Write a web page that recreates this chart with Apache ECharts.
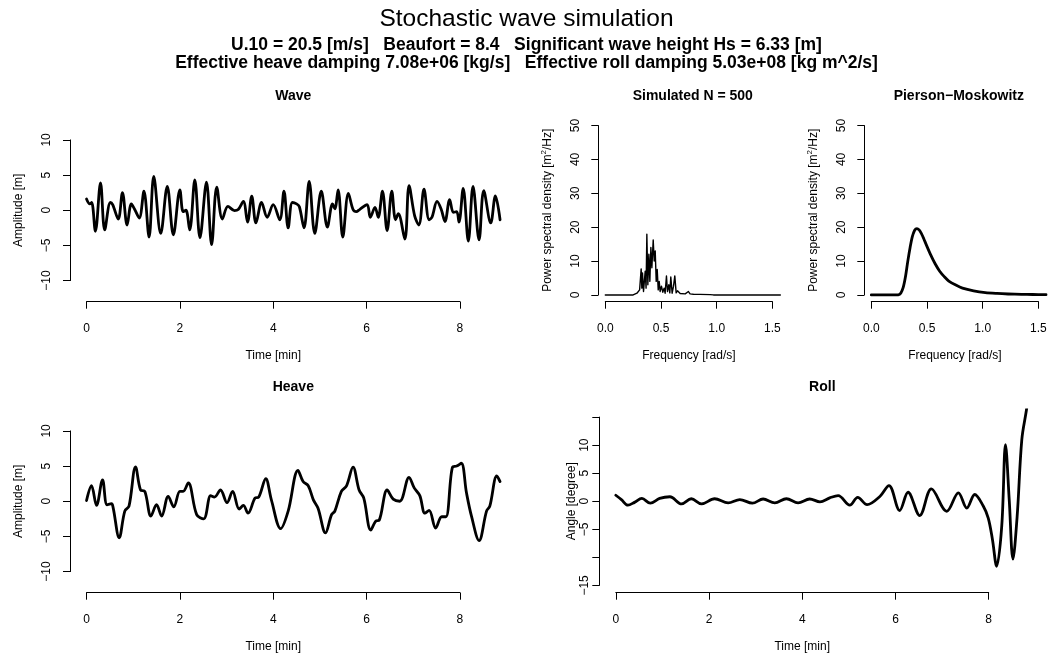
<!DOCTYPE html>
<html>
<head>
<meta charset="utf-8">
<script src="https://cdn.jsdelivr.net/npm/echarts@6/dist/echarts.min.js"></script>
<style>
html,body{margin:0;padding:0;background:#fff;}
#chart{width:1053px;height:658px;}
</style>
</head>
<body>
<div id="chart"></div>
<script>
// ---------------- DATA ----------------
const mainTitle = 'Stochastic wave simulation';
const subLine1 = 'U.10 = 20.5 [m/s]   Beaufort = 8.4   Significant wave height Hs = 6.33 [m]';
const subLine2 = 'Effective heave damping 7.08e+06 [kg/s]   Effective roll damping 5.03e+08 [kg m^2/s]';
const panelTitles = ['Wave', 'Simulated N = 500', 'Pierson\u2212Moskowitz', 'Heave', 'Roll'];

const timeTicks = [0, 2, 4, 6, 8];
const freqTicks = [0, 0.5, 1.0, 1.5];
const ampTicks = [-10, -5, 0, 5, 10];
const psdTicks = [0, 10, 20, 30, 40, 50];
const rollTicks = [-15, -10, -5, 0, 5, 10, 15];
const rollLabelsShown = [-15, -5, 0, 5, 10];

// wave elevation [min, m]
const wave = [[0,1.6],[0.07,0.9],[0.11,1.1],[0.19,-3.0],[0.30,3.9],[0.39,-2.8],[0.51,1.1],[0.56,0.8],[0.68,-1.25],[0.77,2.5],[0.87,-2.1],[0.96,0.9],[1.03,0.15],[1.13,-1.1],[1.23,2.7],[1.34,-3.8],[1.44,4.8],[1.59,-3.3],[1.73,3.4],[1.86,-3.5],[2.0,2.9],[2.07,-0.2],[2.13,0.0],[2.21,-2.8],[2.32,4.3],[2.43,-3.9],[2.57,4.0],[2.68,-4.9],[2.79,3.3],[2.91,-1.25],[3.03,0.55],[3.17,-0.05],[3.25,0.1],[3.36,1.25],[3.45,-1.7],[3.54,2.0],[3.63,-1.8],[3.75,1.1],[3.87,-1.0],[4.0,0.8],[4.14,-1.35],[4.23,2.7],[4.32,-2.5],[4.41,1.1],[4.50,0.9],[4.56,0.5],[4.66,-2.5],[4.77,4.1],[4.89,-3.3],[5.03,2.7],[5.16,-2.4],[5.27,0.9],[5.32,0.2],[5.39,2.9],[5.49,-3.8],[5.61,2.4],[5.71,0.1],[5.78,-0.2],[5.85,0.1],[6.01,0.8],[6.08,-1.0],[6.18,0.4],[6.25,-1.0],[6.34,2.7],[6.44,-2.9],[6.54,2.7],[6.62,-1.35],[6.68,-0.5],[6.82,-4.1],[6.91,3.5],[7.03,-0.8],[7.12,-2.1],[7.23,3.0],[7.34,-1.35],[7.40,-1.0],[7.51,1.25],[7.60,0.1],[7.68,-1.6],[7.78,1.5],[7.86,-0.3],[7.93,-0.2],[7.98,-1.7],[8.07,3.1],[8.18,-4.4],[8.28,3.4],[8.41,-4.2],[8.51,2.8],[8.66,-1.8],[8.76,2.05],[8.86,-1.35]];

// heave [min, m]
const heave = [[0,0.1],[0.107,2.2],[0.214,-0.6],[0.343,3.05],[0.44,-0.5],[0.536,-0.35],[0.57,-0.9],[0.70,-5.2],[0.82,-1.4],[0.91,-0.7],[1.05,4.9],[1.157,1.6],[1.25,1.4],[1.38,-2.1],[1.5,-0.5],[1.61,-2.1],[1.75,0.7],[1.87,-0.8],[2.0,1.4],[2.07,1.4],[2.18,2.6],[2.36,-1.9],[2.51,-2.5],[2.66,0.8],[2.74,0.6],[2.87,1.6],[3.01,-0.2],[3.13,1.4],[3.27,-1.1],[3.36,-0.6],[3.46,-1.7],[3.61,0.45],[3.69,0.6],[3.84,3.2],[3.96,0.2],[4.16,-3.9],[4.32,-1.4],[4.53,4.4],[4.64,2.8],[4.75,2.2],[4.86,0.2],[4.96,-1.0],[5.12,-4.5],[5.25,-1.9],[5.32,-1.4],[5.46,1.4],[5.57,2.2],[5.71,4.85],[5.84,1.6],[5.94,0.45],[6.09,-4.1],[6.2,-2.8],[6.27,-2.7],[6.44,1.6],[6.57,0.3],[6.71,0.0],[6.91,3.4],[7.02,1.9],[7.14,0.8],[7.25,-1.7],[7.34,-1.3],[7.48,-3.8],[7.61,-2.2],[7.70,-2.2],[7.84,4.85],[7.93,5.0],[8.03,5.4],[8.14,1.2],[8.25,-2.2],[8.41,-5.6],[8.57,-1.4],[8.64,-0.7],[8.79,3.6],[8.86,2.8]];

// roll [min, degree]
const roll = [[0,1.07],[0.12,0.3],[0.26,-0.7],[0.40,-0.2],[0.56,0.5],[0.74,-0.35],[0.94,0.5],[1.16,0.8],[1.41,-0.47],[1.62,0.45],[1.84,-0.47],[2.12,0.45],[2.41,-0.3],[2.66,0.3],[2.93,-0.35],[3.16,0.4],[3.41,-0.3],[3.66,0.45],[3.91,-0.3],[4.16,0.4],[4.38,-0.1],[4.59,0.6],[4.77,1.0],[5.02,-0.7],[5.19,0.7],[5.39,-0.6],[5.67,0.9],[5.86,2.8],[6.09,-1.65],[6.27,1.6],[6.52,-2.55],[6.77,2.2],[7.10,-1.8],[7.35,1.5],[7.53,-1.2],[7.70,1.2],[7.88,-0.8],[7.99,-3.0],[8.08,-6.8],[8.17,-11.6],[8.28,-4.4],[8.36,10.1],[8.44,0.3],[8.52,-10.3],[8.61,-2.7],[8.71,11.0],[8.81,16.3],[8.86,19.5]];

// simulated spectrum [rad/s, m^2/Hz]
const simSpec = [[0,0],[0.25,0],[0.254,0.1],[0.284,0.5],[0.308,1.5],[0.322,7.7],[0.328,2.0],[0.334,6.5],[0.343,1.0],[0.358,7.0],[0.366,2.0],[0.373,17.9],[0.382,3.0],[0.391,12.0],[0.400,4.0],[0.409,14.0],[0.418,8.0],[0.430,16.2],[0.439,10.0],[0.448,13.0],[0.457,4.0],[0.466,7.5],[0.475,1.5],[0.484,4.0],[0.492,1.0],[0.504,2.6],[0.516,0.8],[0.528,2.0],[0.537,0.5],[0.549,5.6],[0.558,1.0],[0.570,3.0],[0.579,0.6],[0.588,5.3],[0.600,0.5],[0.612,2.5],[0.624,5.6],[0.636,0.6],[0.648,1.2],[0.660,1.5],[0.672,0.4],[0.687,0.5],[0.717,0.3],[0.746,1.0],[0.761,0.3],[0.791,0.2],[0.851,0.15],[0.941,0.1],[0.97,0],[1.571,0]];

// Pierson-Moskowitz spectrum [rad/s, m^2/Hz]
const pmSpec = [[0,0],[0.2,0],[0.23,0.01],[0.246,0.06],[0.266,0.6],[0.287,2.2],[0.308,5.5],[0.328,9.9],[0.349,14.0],[0.369,17.2],[0.39,19.1],[0.41,19.6],[0.43,19.2],[0.451,18.1],[0.472,16.6],[0.492,15.0],[0.533,11.9],[0.574,9.2],[0.615,7.0],[0.656,5.4],[0.697,4.1],[0.76,2.9],[0.82,2.0],[0.92,1.2],[1.025,0.68],[1.13,0.43],[1.23,0.28],[1.35,0.17],[1.45,0.12],[1.571,0.08]];

// ---------------- LAYOUT ----------------
const FONT = '"Liberation Sans", Arial, Helvetica, sans-serif';
const panels = [
  {g:{left:70, top:118.8, width:446.6, height:182.9}, xr:[-0.354,9.214], yr:[-13,13], xt:timeTicks, yt:ampTicks, xname:'Time [min]', yname:'Amplitude [m]', data:wave, lw:2.8, smooth:0.35, xfmt:v=>String(v), yshow:null, lm:17, ng:45},
  {g:{left:598.3, top:118.8, width:189, height:182.9}, xr:[-0.0628,1.6336], yr:[-2,52], xt:freqTicks, yt:psdTicks, xname:'Frequency [rad/s]', yname:'Power spectral density [m{sup|2}/Hz]', data:simSpec, lw:1.4, smooth:false, xfmt:v=>v.toFixed(1), yshow:null, lm:17, ng:43},
  {g:{left:864.3, top:118.8, width:189, height:182.9}, xr:[-0.0628,1.6336], yr:[-2,52], xt:freqTicks, yt:psdTicks, xname:'Frequency [rad/s]', yname:'Power spectral density [m{sup|2}/Hz]', data:pmSpec, lw:2.8, smooth:0.3, xfmt:v=>v.toFixed(1), yshow:null, lm:17, ng:43},
  {g:{left:70, top:409.8, width:446.6, height:182.9}, xr:[-0.354,9.214], yr:[-13,13], xt:timeTicks, yt:ampTicks, xname:'Time [min]', yname:'Amplitude [m]', data:heave, lw:2.8, smooth:0.35, xfmt:v=>String(v), yshow:null, lm:17, ng:45},
  {g:{left:599.3, top:409.8, width:446, height:182.9}, xr:[-0.354,9.214], yr:[-16.3,16.3], xt:timeTicks, yt:rollTicks, xname:'Time [min]', yname:'Angle [degree]', data:roll, lw:2.8, smooth:0.35, xfmt:v=>String(v), yshow:rollLabelsShown, lm:9, ng:14}
];

const grid = [], xAxis = [], yAxis = [], series = [], graphic = [];
const minus = s => s.replace('-', '\u2212');
const axisLineStyle = {show:true, onZero:false, lineStyle:{color:'#000', width:1}};
const tickStyle = {show:true, inside:false, length:7, lineStyle:{color:'#000', width:1}};

panels.forEach((p, i) => {
  const g = p.g;
  grid.push({left:g.left, top:g.top, width:g.width, height:g.height, containLabel:false});
  xAxis.push({type:'value', gridIndex:i, min:p.xr[0], max:p.xr[1], show:false});
  yAxis.push({type:'value', gridIndex:i, min:p.yr[0], max:p.yr[1], show:false});
  series.push({type:'line', xAxisIndex:i, yAxisIndex:i, data:p.data, showSymbol:false, smooth:p.smooth, clip:true,
    lineStyle:{color:'#000', width:p.lw, join:'round', cap:'round'}, silent:true});
});

panels.forEach((p, i) => {
  const g = p.g;
  const px = v => g.left + (v - p.xr[0]) / (p.xr[1] - p.xr[0]) * g.width;
  const py = v => g.top + (p.yr[1] - v) / (p.yr[1] - p.yr[0]) * g.height;
  const x0 = p.xt[0], x1 = p.xt[p.xt.length-1];
  const y0 = p.yt[0], y1 = p.yt[p.yt.length-1];
  const idx = panels.length + i;
  grid.push({left:px(x0), top:py(y1), width:px(x1)-px(x0), height:py(y0)-py(y1), containLabel:false});
  xAxis.push({type:'value', gridIndex:idx, position:'bottom', min:x0, max:x1, interval:p.xt[1]-p.xt[0],
    offset:(g.top+g.height) - py(y0), splitLine:{show:false}, axisLine:axisLineStyle, axisTick:tickStyle,
    axisLabel:{show:true, margin:21, color:'#000', fontSize:12, fontFamily:FONT, formatter:v=>minus(p.xfmt(v)), showMinLabel:true, showMaxLabel:true, hideOverlap:false},
    name:p.xname, nameLocation:'middle', nameGap:48, nameTextStyle:{color:'#000', fontSize:12, fontFamily:FONT}});
  yAxis.push({type:'value', gridIndex:idx, position:'left', min:y0, max:y1, interval:p.yt[1]-p.yt[0],
    offset:px(x0) - g.left, splitLine:{show:false}, axisLine:axisLineStyle, axisTick:tickStyle,
    axisLabel:{show:true, rotate:90, margin:p.lm, color:'#000', fontSize:12, fontFamily:FONT, showMinLabel:true, showMaxLabel:true, hideOverlap:false,
      formatter:v=>{ if (p.yshow && p.yshow.indexOf(v) < 0) return ''; return minus(String(v)); }},
    name:p.yname, nameLocation:'middle', nameGap:p.ng, nameRotate:90,
    nameTextStyle:{color:'#000', fontSize:12, fontFamily:FONT, rich:{sup:{fontSize:8, fontFamily:FONT, color:'#000', padding:[0,0,8,0]}}}});
  graphic.push({type:'text', x:g.left + g.width/2, y:(i >= 3 ? 387 : 96), silent:true,
    style:{text:panelTitles[i], font:'bold 14px ' + FONT, fill:'#000', align:'center', verticalAlign:'middle'}});
});

graphic.push({type:'text', x:526.5, y:19, silent:true, style:{text:mainTitle, font:'24.5px ' + FONT, fill:'#000', align:'center', verticalAlign:'middle'}});
graphic.push({type:'text', x:526.5, y:45, silent:true, style:{text:subLine1, font:'bold 17.5px ' + FONT, fill:'#000', align:'center', verticalAlign:'middle'}});
graphic.push({type:'text', x:526.5, y:63, silent:true, style:{text:subLine2, font:'bold 17.5px ' + FONT, fill:'#000', align:'center', verticalAlign:'middle'}});

const chart = echarts.init(document.getElementById('chart'), null, {renderer:'canvas'});
chart.setOption({animation:false, backgroundColor:'#fff', grid, xAxis, yAxis, series, graphic});
</script>
</body>
</html>
